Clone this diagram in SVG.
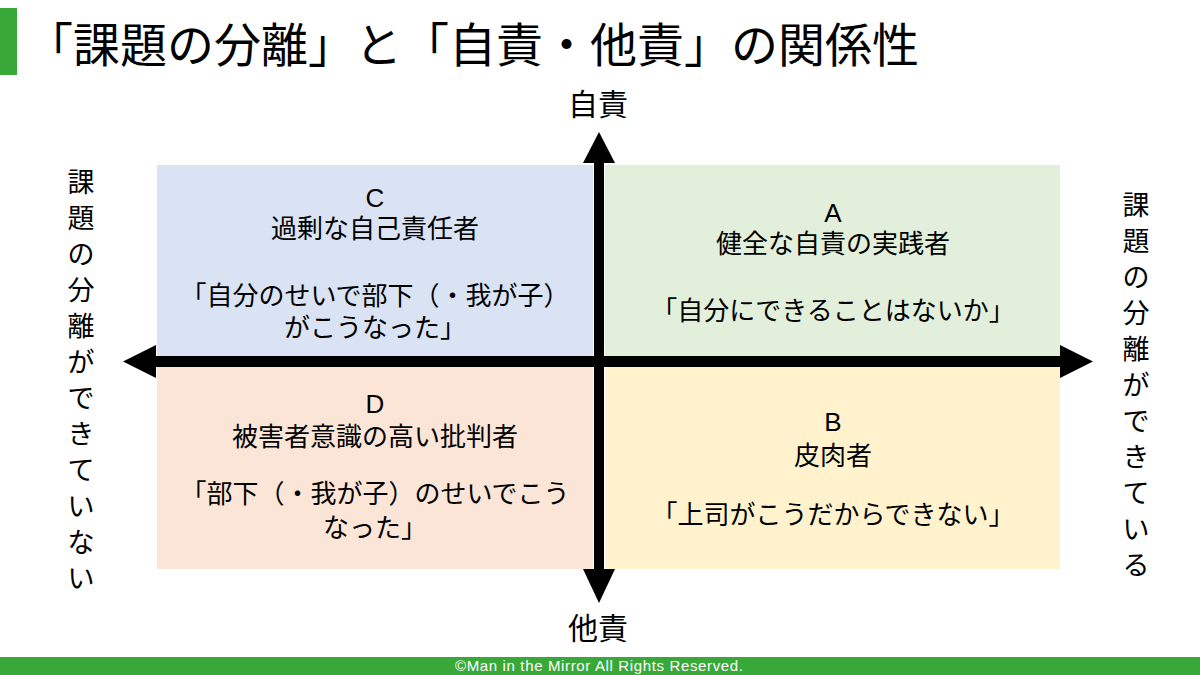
<svg xmlns="http://www.w3.org/2000/svg" width="1200" height="675" viewBox="0 0 1200 675">
<style>
text{font-family:"Liberation Sans","Noto Sans CJK JP",sans-serif;fill:#000}
.t{font-size:26px;text-anchor:middle}
.ax{font-size:30px;text-anchor:middle}
.v{font-size:27px;text-anchor:middle}
.title{font-size:47px}
.foot{font-size:15px;fill:#fff;text-anchor:middle}
.bar{fill:#000}
</style>
<rect width="1200" height="675" fill="#fff"/>
<rect x="0" y="8" width="17" height="67" fill="#38A939"/>
<text class="title" x="26" y="62">「課題の分離」と「自責・他責」の関係性</text>

<g id="quadC">
<rect x="157" y="165" width="436" height="191" fill="#DAE3F3"/>
<text class="t"><tspan x="375" y="207">C</tspan><tspan x="375" y="238">過剰な自己責任者</tspan><tspan x="375" y="305">「自分のせいで部下（・我が子）</tspan><tspan x="375" y="337">がこうなった」</tspan></text>
</g>
<g id="quadA">
<rect x="605" y="165" width="455" height="191" fill="#E2EFDA"/>
<text class="t"><tspan x="833" y="222">A</tspan><tspan x="833" y="253">健全な自責の実践者</tspan><tspan x="833" y="320">「自分にできることはないか」</tspan></text>
</g>
<g id="quadD">
<rect x="157" y="367" width="436" height="202" fill="#FBE5D6"/>
<text class="t"><tspan x="375" y="413">D</tspan><tspan x="375" y="446">被害者意識の高い批判者</tspan><tspan x="375" y="503">「部下（・我が子）のせいでこう</tspan><tspan x="375" y="537">なった」</tspan></text>
</g>
<g id="quadB">
<rect x="605" y="367" width="455" height="202" fill="#FFF2CC"/>
<text class="t"><tspan x="833" y="431">B</tspan><tspan x="833" y="465">皮肉者</tspan><tspan x="833" y="524">「上司がこうだからできない」</tspan></text>
</g>

<g id="connectors">
<rect class="bar" x="156" y="356" width="904" height="11"/>
<polygon class="bar" points="123,361.5 156,345 156,378"/>
<polygon class="bar" points="1093,361.5 1060,345 1060,378"/>
<rect class="bar" x="594" y="162" width="10" height="408"/>
<polygon class="bar" points="599,132 583,163 615,163"/>
<polygon class="bar" points="599,603 583,569 615,569"/>
</g>

<g id="label-top"><text class="ax" x="598" y="115">自責</text></g>
<g id="label-bottom"><text class="ax" x="598" y="639">他責</text></g>
<g id="label-left"><text class="v"><tspan x="81" y="192">課</tspan><tspan x="81" y="228">題</tspan><tspan x="81" y="264">の</tspan><tspan x="81" y="300">分</tspan><tspan x="81" y="336">離</tspan><tspan x="81" y="372">が</tspan><tspan x="81" y="408">で</tspan><tspan x="81" y="444">き</tspan><tspan x="81" y="480">て</tspan><tspan x="81" y="516">い</tspan><tspan x="81" y="552">な</tspan><tspan x="81" y="588">い</tspan></text></g>
<g id="label-right"><text class="v"><tspan x="1136" y="215">課</tspan><tspan x="1136" y="251">題</tspan><tspan x="1136" y="287">の</tspan><tspan x="1136" y="323">分</tspan><tspan x="1136" y="359">離</tspan><tspan x="1136" y="395">が</tspan><tspan x="1136" y="431">で</tspan><tspan x="1136" y="467">き</tspan><tspan x="1136" y="503">て</tspan><tspan x="1136" y="539">い</tspan><tspan x="1136" y="575">る</tspan></text></g>

<rect x="0" y="657" width="1200" height="18" fill="#38A939"/>
<text class="foot" x="599" y="671" textLength="288" lengthAdjust="spacing">©Man in the Mirror All Rights Reserved.</text>
</svg>
